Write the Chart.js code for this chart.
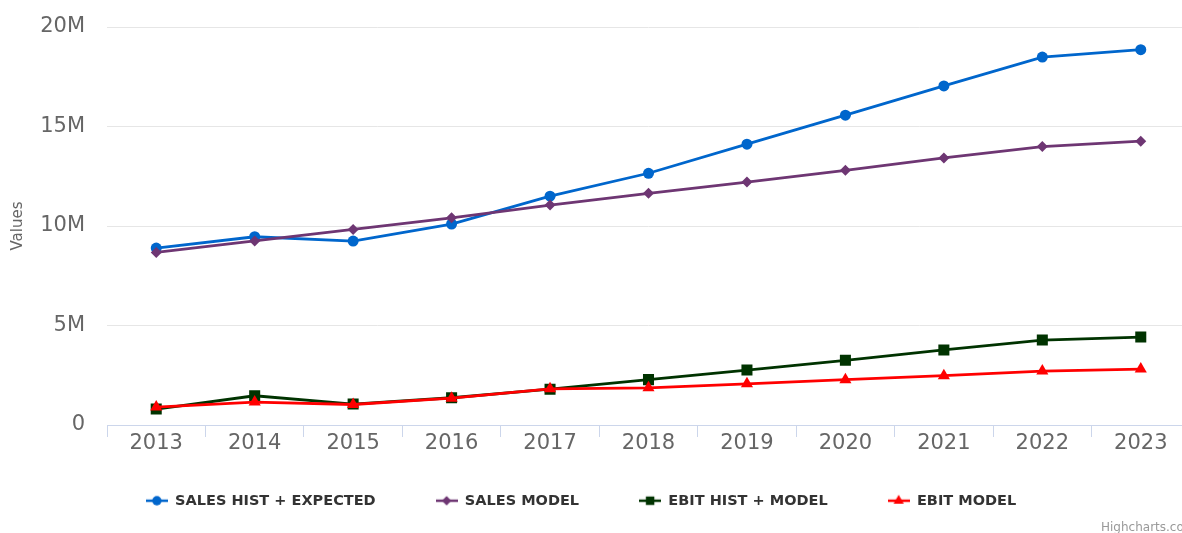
<!DOCTYPE html>
<html>
<head>
<meta charset="utf-8">
<script src="https://cdn.jsdelivr.net/npm/chart.js@4.4.0/dist/chart.umd.min.js"></script>
<style>
  html, body { margin: 0; padding: 0; background: #fff; overflow: hidden; }
  #wrap { position: relative; width: 1200px; height: 533px; }
  #credits { position: absolute; left: 1101px; top: 520px; font: 12px "DejaVu Sans", sans-serif; color: #999; white-space: nowrap; }
</style>
</head>
<body>
<div id="wrap">
  <canvas id="chart"></canvas>
  <div id="credits">Highcharts.com</div>
</div>
<script>
const years = ['2013', '2014', '2015', '2016', '2017', '2018', '2019', '2020', '2021', '2022', '2023'];
const salesHistExpected = [8890000, 9460000, 9240000, 10100000, 11500000, 12650000, 14110000, 15570000, 17040000, 18490000, 18860000];
const salesModel = [8670000, 9250000, 9830000, 10410000, 11050000, 11640000, 12210000, 12800000, 13420000, 13990000, 14260000];
const ebitHistModel = [800000, 1470000, 1050000, 1370000, 1800000, 2280000, 2760000, 3250000, 3770000, 4270000, 4420000];
const ebitModel = [900000, 1150000, 1030000, 1350000, 1820000, 1870000, 2070000, 2280000, 2480000, 2710000, 2810000];
const yTicks = [0, 5000000, 10000000, 15000000, 20000000];

function serie(label, data, color, style, radius, order) {
  return {
    label: label,
    data: data,
    borderColor: color,
    backgroundColor: color,
    borderWidth: 2.8,
    tension: 0,
    fill: false,
    pointStyle: style,
    pointRadius: radius,
    pointHoverRadius: radius,
    pointBorderWidth: 0,
    order: order
  };
}

// petit dessin ligne + marqueur pour la légende
function legendIcon(ds) {
  const c = document.createElement('canvas');
  c.width = 22;
  c.height = 14;
  const g = c.getContext('2d');
  g.strokeStyle = ds.borderColor;
  g.lineWidth = 2.5;
  g.beginPath();
  g.moveTo(0, 7);
  g.lineTo(22, 7);
  g.stroke();
  g.fillStyle = ds.backgroundColor;
  Chart.helpers.drawPoint(g, { pointStyle: ds.pointStyle, radius: Math.min(ds.pointRadius * 0.85, 6), rotation: 0, borderWidth: 0 }, 11, 7);
  return c;
}

// décale la légende un peu vers la gauche
const legendShift = {
  id: 'legendShift',
  afterLayout(chart) {
    const lg = chart.legend;
    lg.left -= 14;
    lg.right -= 14;
  }
};

const ctx = document.getElementById('chart').getContext('2d');
new Chart(ctx, {
  type: 'line',
  data: {
    labels: years,
    datasets: [
      serie('SALES HIST + EXPECTED', salesHistExpected, '#0066cc', 'circle', 5.5, 4),
      serie('SALES MODEL', salesModel, '#6e3673', 'rectRot', 5.5, 3),
      serie('EBIT HIST + MODEL', ebitHistModel, '#003300', 'rect', 7.8, 2),
      serie('EBIT MODEL', ebitModel, '#ff0000', 'triangle', 7, 1)
    ]
  },
  plugins: [legendShift],
  options: {
    responsive: true,
    maintainAspectRatio: false,
    animation: false,
    layout: { padding: { top: 27, right: 10, bottom: 15, left: 0 } },
    plugins: {
      tooltip: { enabled: false },
      legend: {
        position: 'bottom',
        labels: {
          usePointStyle: true,
          pointStyleWidth: 22,
          padding: 60,
          color: '#333',
          font: { family: 'DejaVu Sans', size: 14.5, weight: 'bold' },
          generateLabels: chart => chart.data.datasets.map((ds, i) => ({
            text: ds.label,
            pointStyle: legendIcon(ds),
            fillStyle: 'transparent',
            strokeStyle: 'transparent',
            lineWidth: 0,
            fontColor: '#333',
            hidden: false,
            datasetIndex: i
          }))
        }
      }
    },
    scales: {
      x: {
        type: 'category',
        offset: true,
        grid: { offset: true, drawOnChartArea: false, drawTicks: true, tickLength: 12, color: '#ccd6eb' },
        border: { display: true, color: '#ccd6eb', width: 1 },
        ticks: { color: '#666', mirror: true, padding: -31, font: { family: 'DejaVu Sans', size: 21 } },
        afterFit: s => { s.height = 8.5; }
      },
      y: {
        min: 0,
        max: 20000000,
        afterBuildTicks: s => { s.ticks = yTicks.map(v => ({ value: v })); },
        grid: { color: '#e6e6e6', drawTicks: true, tickLength: 19, tickColor: 'rgba(0,0,0,0)' },
        border: { display: false },
        ticks: {
          color: '#666',
          padding: 3,
          font: { family: 'DejaVu Sans', size: 21 },
          callback: v => v === 0 ? '0' : (v / 1000000) + 'M'
        },
        title: {
          display: true,
          text: 'Values',
          color: '#666',
          font: { family: 'DejaVu Sans', size: 15 },
          padding: { top: 9, bottom: 0 }
        },
        afterFit: s => { s.width = 107; }
      }
    }
  }
});
</script>
</body>
</html>
